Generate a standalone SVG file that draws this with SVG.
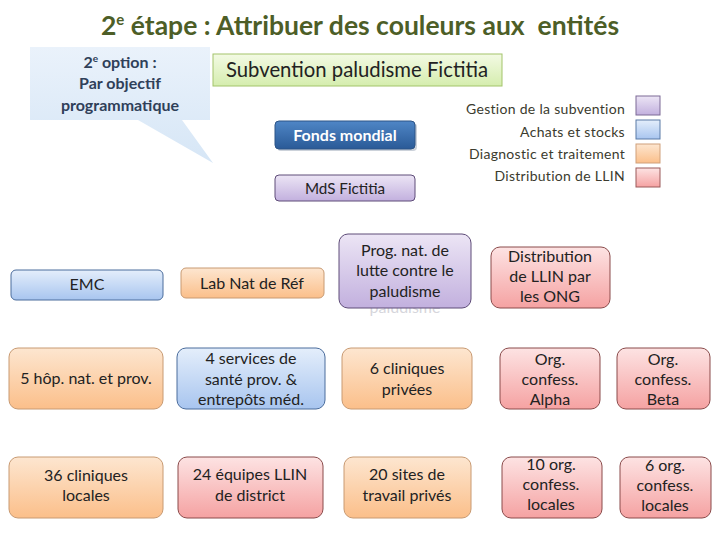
<svg xmlns="http://www.w3.org/2000/svg" width="720" height="540" viewBox="0 0 720 540">
<defs>
<linearGradient id="gBlue" x1="0" y1="0" x2="0" y2="1"><stop offset="0" stop-color="#e4eefb"/><stop offset="1" stop-color="#a8c5ef"/></linearGradient>
<linearGradient id="gOrange" x1="0" y1="0" x2="0" y2="1"><stop offset="0" stop-color="#fde6d0"/><stop offset="1" stop-color="#fbbf8a"/></linearGradient>
<linearGradient id="gPurple" x1="0" y1="0" x2="0" y2="1"><stop offset="0" stop-color="#ece5f5"/><stop offset="1" stop-color="#c2b0de"/></linearGradient>
<linearGradient id="gPink" x1="0" y1="0" x2="0" y2="1"><stop offset="0" stop-color="#fde3e3"/><stop offset="1" stop-color="#f5a2a2"/></linearGradient>
<linearGradient id="gGreen" x1="0" y1="0" x2="0" y2="1"><stop offset="0" stop-color="#f3fae4"/><stop offset="1" stop-color="#d5edae"/></linearGradient>
<linearGradient id="gDark" x1="0" y1="0" x2="0" y2="1"><stop offset="0" stop-color="#4f86c6"/><stop offset="1" stop-color="#2a5a97"/></linearGradient>
<linearGradient id="gCallout" x1="0" y1="0" x2="0" y2="1"><stop offset="0" stop-color="#eaf2fb"/><stop offset="1" stop-color="#d6e6f6"/></linearGradient>
</defs>
<style>
text{font-family:Lato,"Liberation Sans",sans-serif;}
.t{font-size:16px;fill:#222;text-anchor:middle;}
.blue{fill:url(#gBlue);stroke:#4a6c9c;stroke-width:1;}
.orange{fill:url(#gOrange);stroke:#c89a72;stroke-width:1;}
.purple{fill:url(#gPurple);stroke:#5e4c78;stroke-width:1;}
.pink{fill:url(#gPink);stroke:#8a4b4b;stroke-width:1;}
.leg{font-size:14px;fill:#3b3b2e;text-anchor:end;letter-spacing:0.3px;}
.co{font-size:16px;font-weight:bold;fill:#2f4059;text-anchor:middle;}
</style>

<text x="360" y="35" font-size="26.5" font-weight="bold" fill="#4d5e27" text-anchor="middle" xml:space="preserve">2<tspan font-size="15" dy="-10">e</tspan><tspan dy="10"> étape : Attribuer des couleurs aux  entités</tspan></text>

<g id="callout">
<polygon points="30,47 210,47 210,120 182,120 213,163 138,120 30,120" fill="url(#gCallout)"/>
<text x="120" y="68" class="co">2<tspan font-size="10" dy="-6">e</tspan><tspan dy="6"> option :</tspan></text>
<text x="120" y="89" class="co">Par objectif</text>
<text x="120" y="111" class="co">programmatique</text>
</g>

<g id="subvention">
<rect x="213" y="54" width="289" height="32" fill="url(#gGreen)" stroke="#a3c46b"/>
<text x="357" y="77" font-size="20.3" fill="#222" text-anchor="middle">Subvention paludisme Fictitia</text>
</g>

<g id="fonds">
<rect x="277" y="123" width="140" height="28" rx="4" fill="#9aa6b5" opacity="0.5"/>
<rect x="275" y="121" width="140" height="28" rx="4" fill="url(#gDark)" stroke="#2c5487"/>
<text x="345" y="141" font-size="16" font-weight="bold" fill="#fff" text-anchor="middle">Fonds mondial</text>
</g>

<g id="mds">
<rect x="275" y="175" width="140" height="26" rx="4" class="purple"/>
<text x="345" y="194" font-size="15.2" fill="#222" text-anchor="middle">MdS Fictitia</text>
</g>

<g id="legend">
<text x="625" y="114" class="leg">Gestion de la subvention</text>
<text x="625" y="137" class="leg">Achats et stocks</text>
<text x="625" y="159" class="leg">Diagnostic et traitement</text>
<text x="625" y="181" class="leg">Distribution de LLIN</text>
<rect x="636" y="96" width="24" height="19" fill="url(#gPurple)" stroke="#7c6a96"/>
<rect x="636" y="120" width="24" height="19" fill="url(#gBlue)" stroke="#5a7aa6"/>
<rect x="636" y="144" width="24" height="19" fill="url(#gOrange)" stroke="#d0a07a"/>
<rect x="636" y="168" width="24" height="19" fill="url(#gPink)" stroke="#9a5a5a"/>
</g>

<g id="connectors"></g>

<g id="emc">
<rect x="11" y="270" width="152" height="30" rx="5" class="blue"/>
<text x="87" y="290" class="t">EMC</text>
</g>
<g id="labnat">
<rect x="181" y="268" width="143" height="30" rx="5" class="orange"/>
<text x="252" y="289" class="t">Lab Nat de Réf</text>
</g>
<g id="progNat">
<text x="405" y="313" class="t" style="fill:#d6d6dc">paludisme</text>
<rect x="339" y="234" width="132" height="74" rx="9" class="purple"/>
<text x="405" y="256" class="t">Prog. nat. de</text>
<text x="405" y="276" class="t">lutte contre le</text>
<text x="405" y="297" class="t">paludisme</text>
</g>
<g id="distribONG">
<rect x="491" y="247" width="119" height="61" rx="9" class="pink"/>
<text x="550" y="262" class="t">Distribution</text>
<text x="550" y="282" class="t">de LLIN par</text>
<text x="550" y="302" class="t">les ONG</text>
</g>

<g id="hop">
<rect x="9" y="348" width="154" height="61" rx="9" class="orange"/>
<text x="86" y="384" class="t">5 hôp. nat. et prov.</text>
</g>
<g id="services">
<rect x="177" y="348" width="148" height="61" rx="9" class="blue"/>
<text x="251" y="364" class="t">4 services de</text>
<text x="251" y="385" class="t">santé prov. &amp;</text>
<text x="251" y="405" class="t">entrepôts méd.</text>
</g>
<g id="cliniquesPrivees">
<rect x="342" y="348" width="130" height="61" rx="9" class="orange"/>
<text x="407" y="374" class="t">6 cliniques</text>
<text x="407" y="395" class="t">privées</text>
</g>
<g id="alpha">
<rect x="500" y="348" width="100" height="61" rx="9" class="pink"/>
<text x="550" y="365" class="t">Org.</text>
<text x="550" y="385" class="t">confess.</text>
<text x="550" y="405" class="t">Alpha</text>
</g>
<g id="beta">
<rect x="617" y="348" width="93" height="61" rx="9" class="pink"/>
<text x="663" y="365" class="t">Org.</text>
<text x="663" y="385" class="t">confess.</text>
<text x="663" y="405" class="t">Beta</text>
</g>

<g id="cliniquesLocales">
<rect x="9" y="457" width="154" height="61" rx="9" class="orange"/>
<text x="86" y="481" class="t">36 cliniques</text>
<text x="86" y="501" class="t">locales</text>
</g>
<g id="equipes">
<rect x="178" y="457" width="145" height="61" rx="9" class="pink"/>
<text x="250" y="480" class="t">24 équipes LLIN</text>
<text x="250" y="501" class="t">de district</text>
</g>
<g id="sites">
<rect x="344" y="457" width="127" height="61" rx="9" class="orange"/>
<text x="407" y="480" class="t">20 sites de</text>
<text x="407" y="501" class="t">travail privés</text>
</g>
<g id="org10">
<rect x="502" y="457" width="100" height="61" rx="9" class="pink"/>
<text x="551" y="470" class="t">10 org.</text>
<text x="551" y="490" class="t">confess.</text>
<text x="551" y="510" class="t">locales</text>
</g>
<g id="org6">
<rect x="620" y="457" width="91" height="61" rx="9" class="pink"/>
<text x="665" y="471" class="t">6 org.</text>
<text x="665" y="491" class="t">confess.</text>
<text x="665" y="511" class="t">locales</text>
</g>
</svg>
